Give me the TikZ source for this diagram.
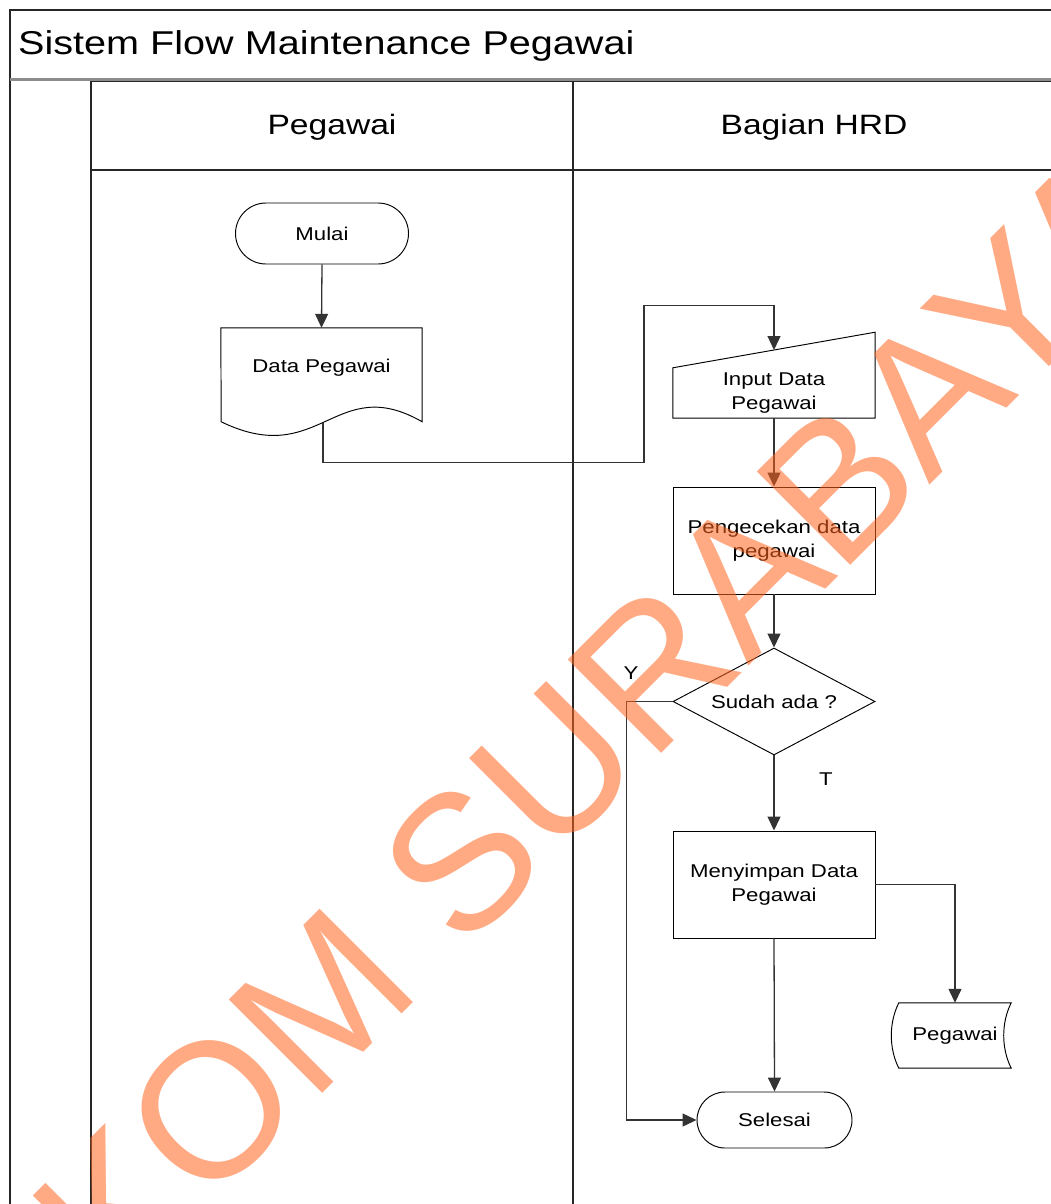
\documentclass[tikz,border=0pt]{standalone}
\usepackage{fontspec}
\setmainfont{Liberation Sans}[FakeStretch=1.2]
\newfontfamily\wmfont{Liberation Sans}
\usetikzlibrary{shapes.geometric,shapes.misc,arrows.meta}
\definecolor{wmorange}{RGB}{255,100,30}
\newcommand\isi{\fontsize{18.5}{24}\selectfont}

\begin{document}
\begin{tikzpicture}[x=1pt,y=-1pt,
    lane/.style={draw=black!85,line width=1.4pt},
    flow/.style={draw=black!80,line width=1.3pt,-{Triangle[width=13pt,length=14pt]}},
    outline/.style={draw=black,line width=0.95pt},
    box/.style={outline,rectangle,minimum width=202pt,minimum height=107pt,inner sep=0pt,align=center,font=\isi},
    term/.style={outline,rounded rectangle,inner sep=0pt,font=\isi},
    plain/.style={inner sep=0pt,align=center,font=\isi}]
    \useasboundingbox (0,0) rectangle (1051,1204);
    \clip (0,0) rectangle (1051,1204);

    % frame and lanes
    \draw[lane] (10,1210) -- (10,10) -- (1060,10);
    \draw[line width=3pt,black!45] (10,80) -- (1060,80);
    \draw[lane] (91,1210) -- (91,81.5) -- (1060,81.5);
    \draw[lane] (91,170) -- (1060,170);
    \draw[lane] (573,81.5) -- (573,1210);

    \node[anchor=base west,inner sep=0pt,font=\fontsize{33}{36}\selectfont] (judul) at (18,55) {Sistem Flow Maintenance Pegawai};
    \node[anchor=base,inner sep=0pt,font=\fontsize{28}{30}\selectfont] (lanepeg) at (332,135) {Pegawai};
    \node[anchor=base,inner sep=0pt,font=\fontsize{28}{30}\selectfont] (lanehrd) at (814,135) {Bagian HRD};

    % pegawai
    \node[term,minimum width=173pt,minimum height=61pt] (mulai) at (322,233.5) {Mulai};
    \node[plain,minimum width=201pt,minimum height=80pt] (datapeg) at (321.5,368) {Data Pegawai};
    \draw[outline] (datapeg.north west) -- (datapeg.north east) -- ++(0,94)
        .. controls +(-87,-50) and +(99,48) .. ++(-201,0) coordinate[pos=0.52] (docbot) -- cycle;

    % bagian hrd
    \node[plain,minimum width=202pt,minimum height=50pt] (inputdata) at (774,393) {Input Data\\Pegawai};
    \draw[outline] (inputdata.south west) -- (inputdata.south east) -- ++(0,-86)
        -- (inputdata.north west) coordinate[pos=0.5] (intop) -- cycle;
    \node[box] (cek) at (774,540.5) {Pengecekan data\\pegawai};
    \node[outline,diamond,aspect=1.9,minimum width=202pt,minimum height=107pt,inner sep=0pt,font=\isi] (sudah) at (774,701.5) {Sudah ada ?};
    \node[box] (simpan) at (774,884.5) {Menyimpan Data\\Pegawai};
    \node[plain,minimum width=112pt,minimum height=65pt] (pegdb) at (955,1035.5) {Pegawai};
    \draw[outline] (pegdb.north west) -- (pegdb.north east)
        .. controls +(-10,20) and +(-10,-20) .. (pegdb.south east) -- (pegdb.south west)
        .. controls +(-10,-20) and +(-10,20) .. (pegdb.north west) -- cycle;
    \node[term,minimum width=155pt,minimum height=56pt] (selesai) at (774.5,1120) {Selesai};

    \node[plain] (ya) at (631,673) {Y};
    \node[plain] (tidak) at (826,779) {T};

    % connectors
    \draw[flow] (mulai.south) -- (datapeg.north);
    \draw[flow] (docbot) -- ++(0,40) -| ++(321,-157) -| (intop);
    \draw[flow] (inputdata.south) -- (cek.north);
    \draw[flow] (cek.south) -- (sudah.north);
    \draw[flow] (sudah.west) -- ++(-46,0) |- (selesai.west);
    \draw[flow] (sudah.south) -- (simpan.north);
    \draw[flow] (simpan.east) -| (pegdb.north);
    \draw[flow] (simpan.south) -- (selesai.north);

    % watermark
    \node[rotate=45,inner sep=0pt,text=wmorange,text opacity=0.55,font=\wmfont\fontsize{192}{192}\selectfont] (tanda) at (496,826) {STIKOM SURABAYA};
\end{tikzpicture}
\end{document}
